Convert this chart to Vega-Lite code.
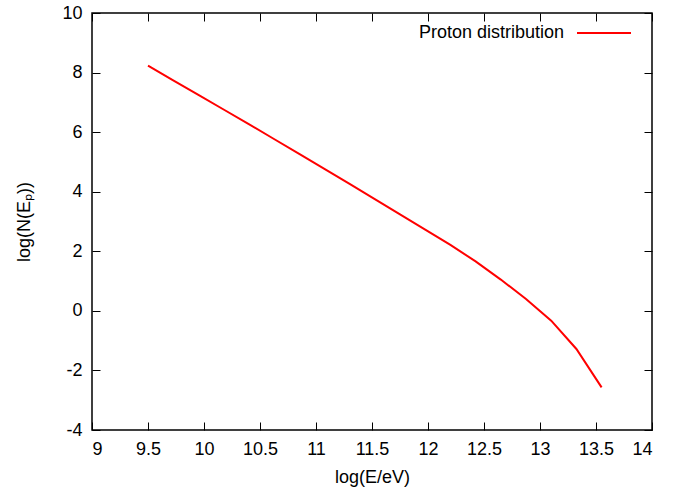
{
  "$schema": "https://vega.github.io/schema/vega-lite/v6.json",
  "width": 560,
  "height": 417,
  "autosize": {"type": "none"},
  "padding": {"left": 92, "top": 13, "right": 42, "bottom": 65},
  "background": "white",
  "config": {
    "font": "Liberation Sans",
    "view": {"stroke": "black", "strokeWidth": 1.5},
    "axis": {
      "domain": false,
      "grid": false,
      "ticks": true,
      "tickColor": "black",
      "tickWidth": 1,
      "tickSize": -8,
      "labelFont": "Liberation Sans",
      "labelFontSize": 18,
      "labelColor": "black",
      "titleFont": "Liberation Sans",
      "titleFontSize": 18,
      "titleFontWeight": "normal",
      "titleColor": "black"
    }
  },
  "data": {
    "values": [
      {"logE": 9.5, "logN": 8.23, "series": "Proton distribution"},
      {"logE": 9.725, "logN": 7.74, "series": "Proton distribution"},
      {"logE": 9.95, "logN": 7.25, "series": "Proton distribution"},
      {"logE": 10.175, "logN": 6.76, "series": "Proton distribution"},
      {"logE": 10.4, "logN": 6.27, "series": "Proton distribution"},
      {"logE": 10.625, "logN": 5.77, "series": "Proton distribution"},
      {"logE": 10.85, "logN": 5.27, "series": "Proton distribution"},
      {"logE": 11.075, "logN": 4.77, "series": "Proton distribution"},
      {"logE": 11.3, "logN": 4.26, "series": "Proton distribution"},
      {"logE": 11.525, "logN": 3.75, "series": "Proton distribution"},
      {"logE": 11.75, "logN": 3.24, "series": "Proton distribution"},
      {"logE": 11.975, "logN": 2.73, "series": "Proton distribution"},
      {"logE": 12.2, "logN": 2.215, "series": "Proton distribution"},
      {"logE": 12.425, "logN": 1.66, "series": "Proton distribution"},
      {"logE": 12.65, "logN": 1.05, "series": "Proton distribution"},
      {"logE": 12.875, "logN": 0.4, "series": "Proton distribution"},
      {"logE": 13.1, "logN": -0.33, "series": "Proton distribution"},
      {"logE": 13.325, "logN": -1.28, "series": "Proton distribution"},
      {"logE": 13.55, "logN": -2.57, "series": "Proton distribution"}
    ]
  },
  "layer": [
    {
      "mark": {"type": "line", "strokeWidth": 2, "clip": true},
      "encoding": {
        "x": {
          "field": "logE", "type": "quantitative",
          "scale": {"domain": [9, 14], "nice": false, "zero": false},
          "axis": {
            "orient": "bottom",
            "values": [9, 9.5, 10, 10.5, 11, 11.5, 12, 12.5, 13, 13.5, 14],
            "labelExpr": "toString(datum.value)",
            "labelPadding": 18,
            "title": "log(E/eV)",
            "titleBaseline": "alphabetic",
            "titleY": 52
          }
        },
        "y": {
          "field": "logN", "type": "quantitative",
          "scale": {"domain": [-4, 10], "nice": false, "zero": false},
          "axis": {
            "orient": "left",
            "values": [-4, -2, 0, 2, 4, 6, 8, 10],
            "labelExpr": "toString(datum.value)",
            "labelPadding": 18,
            "title": "log(N(Eₚ))",
            "titleBaseline": "alphabetic",
            "titleX": -63
          }
        },
        "color": {
          "field": "series", "type": "nominal",
          "scale": {"range": ["#ff0000"]},
          "legend": {
            "title": null,
            "orient": "none",
            "legendX": 484,
            "legendY": -8,
            "padding": 0,
            "symbolType": "stroke",
            "symbolSize": 2916,
            "symbolStrokeWidth": 2,
            "labelAlign": "right",
            "labelOffset": -68,
            "labelFont": "Liberation Sans",
            "labelFontSize": 18,
            "labelColor": "black",
            "labelLimit": 400
          }
        }
      }
    },
    {
      "mark": {"type": "line", "opacity": 0},
      "encoding": {
        "x": {
          "field": "logE", "type": "quantitative",
          "axis": {
            "orient": "top",
            "values": [9, 9.5, 10, 10.5, 11, 11.5, 12, 12.5, 13, 13.5, 14],
            "labels": false,
            "title": null
          }
        },
        "y": {
          "field": "logN", "type": "quantitative",
          "axis": {
            "orient": "right",
            "values": [-4, -2, 0, 2, 4, 6, 8, 10],
            "labels": false,
            "title": null
          }
        }
      }
    }
  ],
  "resolve": {"axis": {"x": "independent", "y": "independent"}}
}
